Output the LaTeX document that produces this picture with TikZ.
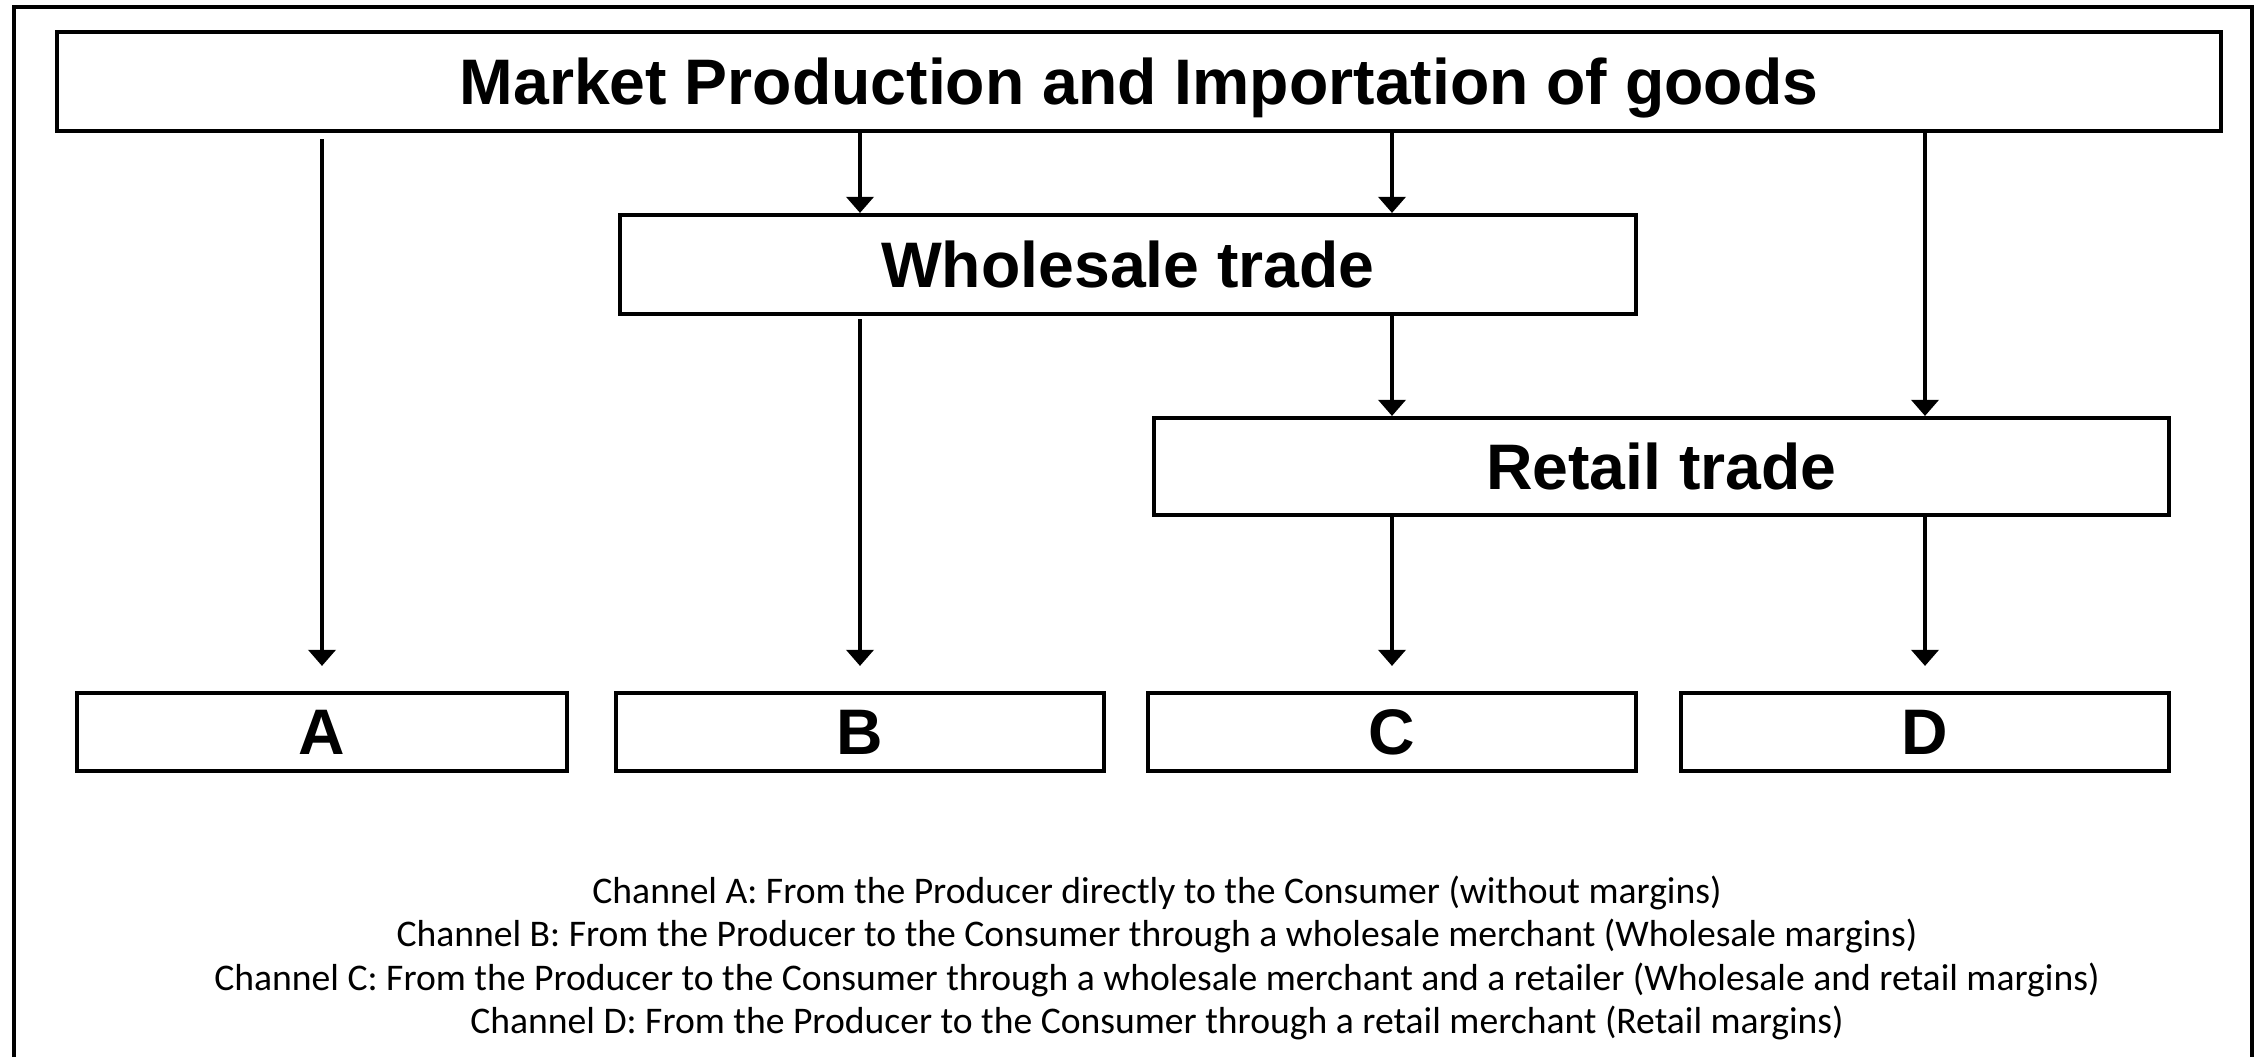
\documentclass[tikz,border=0pt]{standalone}
\usepackage{fontspec}
\setmainfont{Liberation Sans}
\newfontfamily\legendfont{Carlito}
\usepackage{tikz}
\usetikzlibrary{calc, arrows.meta}

\begin{document}
\begin{tikzpicture}[x=0.01cm, y=-0.01cm,
		box/.style = {draw, rectangle, line width=1.15pt, inner sep=0pt, text depth=0pt,
			font=\fontsize{18.3}{22}\selectfont\bfseries},
		arr/.style = {line width=1.1pt, -{Triangle[width=7.7pt, length=4.6pt]}},
		tobottom/.style = {arr, shorten >=0.25cm}]
				\useasboundingbox (0,0) rectangle (2260,1057);
				\draw[line width=1.15pt] (14,1057) -- (14,7) -- (2252,7) -- (2252,1057);
				
				\node (mkt) at (1139,81.5)[box, minimum width=21.62cm, minimum height=0.99cm]{Market Production and Importation of goods};
				\node (whl) at (1128,264.5)[box, minimum width=10.16cm, minimum height=0.99cm]{Wholesale trade};
				\node (ret) at (1661.5,466.5)[box, minimum width=10.15cm, minimum height=0.97cm]{Retail trade};
				\node (A) at (322,732)[box, minimum width=4.9cm, minimum height=0.78cm]{A};
				\node (B) at (860,732)[box, minimum width=4.88cm, minimum height=0.78cm]{B};
				\node (C) at (1392,732)[box, minimum width=4.88cm, minimum height=0.78cm]{C};
				\node (D) at (1925,732)[box, minimum width=4.88cm, minimum height=0.78cm]{D};
				
				\draw[tobottom, shorten <=0.06cm] (mkt.south -| A.north) -- (A.north);
				\draw[arr] (mkt.south -| B.north) -- (whl.north -| B.north);
				\draw[arr] (mkt.south -| C.north) -- (whl.north -| C.north);
				\draw[arr] (mkt.south -| D.north) -- (ret.north -| D.north);
				\draw[tobottom, shorten <=0.03cm] (whl.south -| B.north) -- (B.north);
				\draw[arr] (whl.south -| C.north) -- (ret.north -| C.north);
				\draw[tobottom] (ret.south -| C.north) -- (C.north);
				\draw[tobottom] (ret.south -| D.north) -- (D.north);
				
				\node (leg) at (1157,958)[font=\legendfont\fontsize{10.7}{12.4}\selectfont, align=center]{Channel A: From the Producer directly to the Consumer (without margins)\\
					Channel B: From the Producer to the Consumer through a wholesale merchant (Wholesale margins)\\
					Channel C: From the Producer to the Consumer through a wholesale merchant and a retailer (Wholesale and retail margins)\\
					Channel D: From the Producer to the Consumer through a retail merchant (Retail margins)};
			\end{tikzpicture}
\end{document}
